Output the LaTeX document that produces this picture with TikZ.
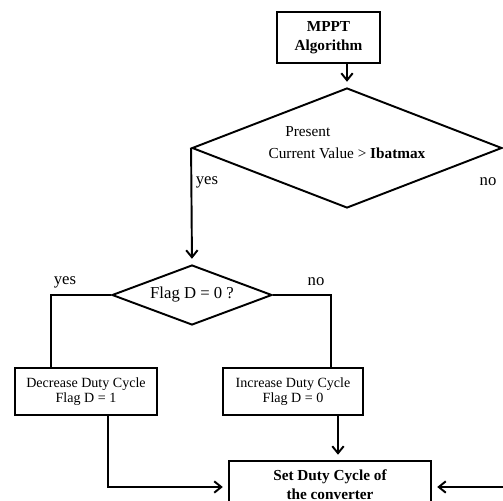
\documentclass[tikz,border=0pt]{standalone}
\usepackage{fontspec}
\setmainfont{Liberation Serif}
\usetikzlibrary{shapes.geometric,arrows.meta}
\begin{document}
\begin{tikzpicture}[x=0.02cm, y=-0.02cm, line width=1.1pt, >={Straight Barb[length=4pt,width=6.5pt]}, every node/.style={font=\fontsize{8.7}{10.5}\selectfont}]
  \tikzstyle{blk}=[draw,line width=1.1pt,align=center,inner sep=0pt]
  \tikzstyle{cond}=[draw,diamond,line width=1.1pt,inner sep=0pt,align=center]
  \tikzstyle{lbl}=[font=\fontsize{9.5}{11}\selectfont]
  \tikzstyle{arr}=[->,shorten >=3pt]
  \clip (0,0) rectangle (503,500);
  \node[blk,minimum width=2.06cm,minimum height=1.02cm] (mppt) at (328.5,37.5) {\textbf{MPPT}\\\textbf{Algorithm}};
  \node[cond,minimum width=6.2cm,minimum height=2.4cm,aspect=2.58,align=left,font=\fontsize{8.7}{12.5}\selectfont] (cur) at (347,148) {\hspace*{9.5pt}Present\\Current Value > \textbf{Ibatmax}\\[-5.7pt]\mbox{}};
  \node[cond,minimum width=3.2cm,minimum height=1.2cm,aspect=2.67,font=\fontsize{9.5}{11}\selectfont] (flag) at (192,295) {Flag D = 0 ?};
  \node[blk,minimum width=2.84cm,minimum height=0.94cm,font=\fontsize{8}{8.6}\selectfont] (decr) at (86,391.5) {Decrease Duty Cycle\\Flag D = 1};
  \node[blk,minimum width=2.8cm,minimum height=0.94cm,font=\fontsize{8}{8.6}\selectfont] (incr) at (293,391.5) {Increase Duty Cycle\\Flag D = 0};
  \node[blk,minimum width=4.04cm,inner ysep=0.18cm,anchor=north] (set) at (330,460) {\textbf{Set Duty Cycle of}\\\textbf{the converter}};
  \node[lbl] (yes1) at (207,182) {yes};
  \node[lbl] (no1) at (488,182) {no};
  \node[lbl] (yes2) at (65,282) {yes};
  \node[lbl] (no2) at (316,282) {no};
  \coordinate (back) at (515,487);
  \draw[arr] (cur.north |- mppt.south) -- (cur.north);
  \draw[arr] (cur.west) -- (flag.north);
  \draw (flag.west) -| ([xshift=-0.7cm]decr.north);
  \draw (flag.east) -| ([xshift=0.76cm]incr.north);
  \draw[arr] ([xshift=0.44cm]decr.south) |- (back -| set.west);
  \draw[arr] ([xshift=0.9cm]incr.south) -- ([xshift=0.16cm]set.north);
  \draw[arr] (back) -- (back -| set.east);
\end{tikzpicture}
\end{document}
